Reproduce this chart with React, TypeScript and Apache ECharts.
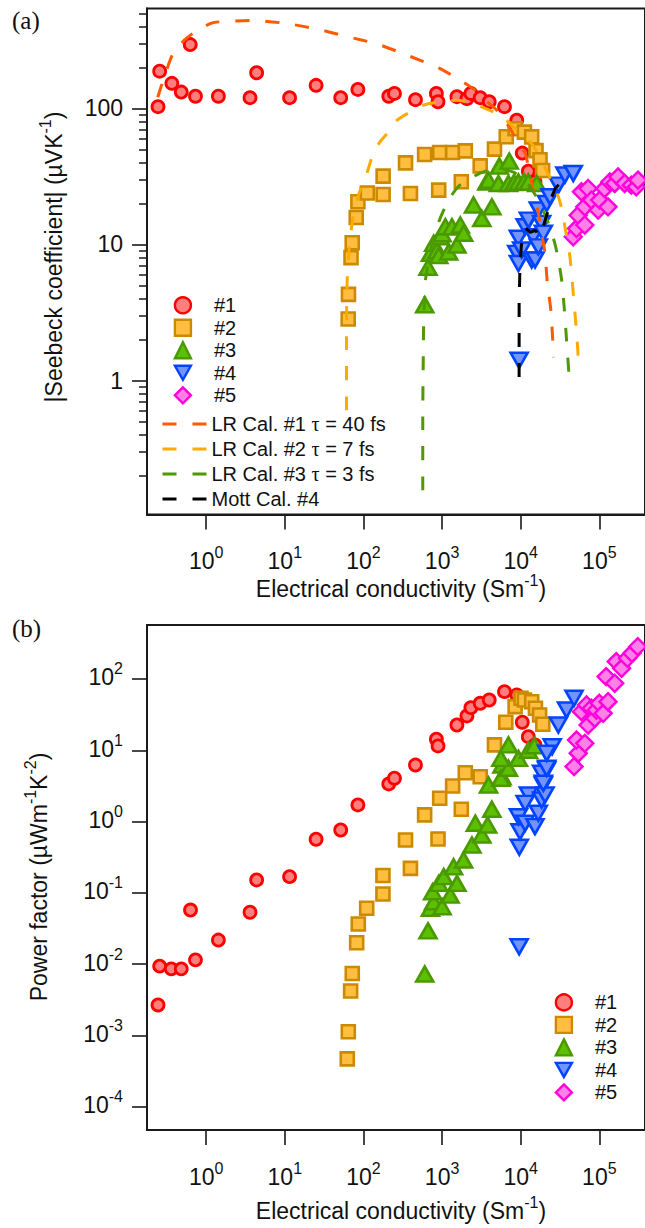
import React, { useEffect, useRef } from "react";
import * as echarts from "echarts";

// ---------- data: panel (a) |Seebeck coefficient| (µV/K) vs conductivity (S/m)
const seebeck1 = [[0.244,103],[0.256,188],[0.366,153],[0.482,132],[0.627,295],[0.731,123],[1.43,123],[3.61,120],[4.38,183],[11.5,120],[25,148],[51.4,120],[85,138],[210,123],[248,129],[459,116],[847,129],[888,112],[1545,122],[2070,118],[2325,129],[3055,120],[3980,112],[6220,103],[8910,82],[10470,47],[12500,34.6],[15200,28.9]];
const seebeck2 = [[64,2.83],[64.5,4.3],[69.5,8.0],[72,10.3],[81,15.8],[85,20.6],[112,23.9],[178,23.3],[178,31.8],[343,39.8],[396,23.7],[600,45.9],[906,25.1],[933,47.4],[1363,47.4],[1757,28.9],[1974,48.8],[3055,37.8],[4640,50.2],[6550,62],[8490,71],[11140,67],[13800,61.8],[15670,49],[17620,42],[19010,35]];
const seebeck3 = [[602,3.6],[663,6.8],[711,8.6],[783,10.2],[860,9.0],[906,8.3],[951,11.4],[1000,12.0],[1101,13.5],[1213,8.8],[1336,13.5],[1545,9.9],[1706,13.9],[1879,12.1],[2512,19.5],[3205,15.5],[3706,28.8],[3900,29.7],[4295,18.9],[5350,37.7],[5215,28.1],[7150,41],[6980,28.1],[8200,28.5],[9350,28.8],[11000,29],[12530,28.8],[15960,28.1]];
const seebeck4 = [[9550,1.41],[8920,8.6],[9350,7.25],[9350,11.1],[10300,9.1],[11380,13.5],[12530,15.1],[13800,7.7],[14490,11.4],[15230,7.7],[16760,9.6],[16760,17.9],[18450,14.3],[19400,12.1],[21380,20],[23600,22.4],[30100,27.3],[36500,32.4],[46600,33.3]];
const seebeck5 = [[46600,11.4],[51300,13.1],[53900,16.4],[59300,24.4],[65400,13.9],[65400,18.9],[72100,25.8],[79400,21.2],[96600,17.9],[101000,21.2],[117000,25.8],[129000,18.9],[136000,28.8],[157000,28.1],[173000,31.4],[210000,28.1],[255000,27.3],[295000,26.5],[310000,29.7]];

// calculated curves, panel (a)
const lrCal1 = [[0.242,121],[0.258,136],[0.314,192],[0.382,255],[0.531,319],[0.753,372],[1.17,424],[1.45,433],[3.75,444],[9.63,424],[24.3,386],[61.2,338],[154,296],[380,243],[914,198],[1706,161],[2642,136],[3540,115],[4970,97],[7340,71.3],[8830,58.5],[11370,46.9],[12530,37],[14500,25],[16760,17],[18460,12.1],[20370,8.6],[21800,5.28],[24300,3.19],[26200,1.48]];
const lrCal2 = [[60.9,0.605],[60.9,1.98],[61.8,5.02],[65.5,9.1],[72.1,14.7],[78,18.4],[87.7,23.7],[107,31.4],[129,44.1],[157,55.3],[200,65.5],[268,82],[396,94.4],[584,106],[951,112],[1545,115],[2393,109],[3540,100],[5480,89.3],[8490,71.3],[12530,58.5],[15230,50.8],[21100,35.2],[23600,30.8],[30100,22.4],[33100,18.4],[36500,13.5],[42300,8.1],[48000,3.58],[51900,2.09],[55000,1.2]];
const lrCal3 = [[568,0.156],[568,0.51],[576,1.41],[584,2.77],[601,4.17],[619,5.65],[716,9.07],[906,14.6],[1213,21.2],[1623,26.8],[2305,30.7],[3365,34.2],[5215,35.8],[8090,34],[11800,28.7],[16760,21.2],[22400,14.4],[27500,9.9],[32800,5.75],[35800,3.4],[38300,1.98],[41000,1.14],[43000,0.9]];
const mottCal4 = [[9550,1.06],[9550,3.89],[9770,6.47],[10200,9.88],[11480,13.2],[13300,12.3],[15400,12.7],[17300,11.5],[19400,13.6],[21800,17],[24500,21.9],[27500,25.9],[32800,28.7],[40200,29.7]];

// ---------- data: panel (b) power factor (µW m^-1 K^-2) vs conductivity (S/m)
const pf1 = [[0.244,0.00268],[0.256,0.0094],[0.36,0.0086],[0.482,0.0086],[0.632,0.0575],[0.731,0.0115],[1.43,0.0218],[3.61,0.0535],[4.38,0.152],[11.5,0.169],[25,0.565],[51.4,0.762],[85,1.71],[210,3.37],[248,4.05],[459,6.22],[847,14.3],[888,11.5],[1545,22.6],[2070,30.3],[2325,39.6],[3055,45.6],[3980,50.7],[6220,66.4],[8910,59.7],[10470,24.7],[12500,15.5],[15200,11.9]];
const pf2 = [[62.3,0.00047],[64.2,0.00113],[68.7,0.0042],[72.1,0.0074],[82,0.02],[86,0.0366],[110,0.061],[177,0.0966],[177,0.175],[396,0.221],[343,0.552],[888,0.57],[600,1.24],[1757,1.49],[933,2.12],[1363,3.16],[1974,4.85],[3055,4.26],[4640,11.9],[6460,24.7],[8490,40.9],[10100,53.6],[11140,50.7],[13800,48],[15400,38.8],[17400,31.3],[19100,23.2]];
const pf3 = [[602,0.0073],[663,0.0293],[711,0.0608],[783,0.0753],[1000,0.064],[760,0.104],[906,0.136],[1265,0.093],[1545,0.136],[1050,0.169],[1400,0.233],[1879,0.289],[2400,0.47],[3205,0.649],[2650,0.946],[3800,0.895],[4295,1.49],[3900,3.26],[5780,4.26],[5780,6.2],[5600,4.05],[6980,5.58],[5600,7.7],[6980,11.9],[9350,7.7],[12530,10],[14900,11.6]];
const pf4 = [[9550,0.0176],[9600,0.436],[9800,0.72],[9350,1.17],[11380,0.946],[15200,0.85],[16760,1.31],[12530,2.36],[11400,1.8],[18450,2.01],[19400,3.26],[21400,5.3],[18450,4.75],[20400,2.36],[19400,3.44],[21400,5.58],[25100,11.2],[21400,9.1],[30100,22.6],[38300,36.7],[47700,53.6]];
const pf5 = [[47700,5.9],[53900,9.1],[51300,13.9],[65400,12.5],[72100,22.6],[59300,34.8],[68600,43.2],[79400,38.8],[87600,28.1],[91800,36.7],[100000,45.6],[112000,33],[129000,48],[122000,108],[157000,87],[164000,175],[192000,141],[228000,195],[260000,229],[308000,284]];

// ---------- labels / ticks
const sampleNames = ["#1", "#2", "#3", "#4", "#5"];
const lineNames = ["LR Cal. #1 τ = 40 fs", "LR Cal. #2 τ = 7 fs", "LR Cal. #3 τ = 3 fs", "Mott Cal. #4"];
const xTickValues = [1, 10, 100, 1000, 10000, 100000];
const yTickValuesA = [1, 10, 100];
const yMinorTicksA = [0.2,0.3,0.4,0.5,0.6,0.7,0.8,0.9,2,3,4,5,6,7,8,9,20,30,40,50,60,70,80,90,200,300,400,500];
const yTickValuesB = [0.0001, 0.001, 0.01, 0.1, 1, 10, 100];

const FONT = '"Liberation Sans", Arial, Helvetica, sans-serif';
const SERIF = '"Liberation Serif", "Times New Roman", serif';
const AX = "#1a1a1a";
const TXT = "#111";

const X_MIN = 0.1767, X_MAX = 3.81e5;
const YA_MIN = 0.1035, YA_MAX = 543;
const YB_MIN = 4.73e-5, YB_MAX = 571;

const markerStyles = [
  { symbol: "circle", size: 12, rotate: 0, fill: "#FF7F7F", stroke: "#FF0000", bw: 2.8 },
  { symbol: "rect", size: 13, rotate: 0, fill: "#FFBE40", stroke: "#CC8A00", bw: 2.6 },
  { symbol: "triangle", size: [17, 15], rotate: 0, fill: "#5CC000", stroke: "#4A9900", bw: 2.6 },
  { symbol: "triangle", size: [17, 15], rotate: 180, fill: "#7393FF", stroke: "#0044FF", bw: 2.6 },
  { symbol: "diamond", size: 17, rotate: 0, fill: "#FF80E6", stroke: "#FF00DD", bw: 2.4 },
];
const lineColors = ["#FF5A00", "#FFAA00", "#4F9A00", "#000000"];
const DOWN_TRIANGLE = "path://M0,0L17,0L8.5,15Z";

const labelRich = {
  b: { fontSize: 23, lineHeight: 20, fontFamily: FONT, color: TXT, verticalAlign: "bottom" },
  s: { fontSize: 16, lineHeight: 14, padding: [0, 0, 12, 0], fontFamily: FONT, color: TXT, verticalAlign: "bottom" },
};
const titleRich = {
  b: { fontSize: 23, lineHeight: 20, fontFamily: FONT, color: TXT, verticalAlign: "bottom" },
  s: { fontSize: 16, lineHeight: 12, padding: [0, 0, 12, 0], fontFamily: FONT, color: TXT, verticalAlign: "bottom" },
};
const expLabel = (v: number) => `{b|10}{s|${Math.round(Math.log10(v))}}`;

function xAxisCfg(gridIndex: number) {
  return {
    gridIndex, type: "log", logBase: 10, min: X_MIN, max: X_MAX,
    axisLine: { show: true, lineStyle: { color: AX, width: 2 } },
    axisTick: { show: true, inside: false, length: 15, customValues: xTickValues, lineStyle: { color: AX, width: 1.6 } },
    axisLabel: { show: true, customValues: xTickValues, formatter: expLabel, margin: 38, rich: labelRich, fontFamily: FONT },
    splitLine: { show: false },
    minorTick: { show: false },
  };
}

export default function App() {
  const ref = useRef<HTMLDivElement>(null);
  useEffect(() => {
    if (!ref.current) return;
    const chart = echarts.init(ref.current, undefined, { renderer: "svg" });

    const seebeckSets = [seebeck1, seebeck2, seebeck3, seebeck4, seebeck5];
    const pfSets = [pf1, pf2, pf3, pf4, pf5];
    const lineSets = [lrCal1, lrCal2, lrCal3, mottCal4];

    const scatter = (name: string, data: number[][], i: number, axis: number) => {
      const m = markerStyles[i];
      return {
        name, type: "scatter", data, xAxisIndex: axis, yAxisIndex: axis,
        symbol: m.symbol, symbolSize: m.size, symbolRotate: m.rotate,
        itemStyle: { color: m.fill, borderColor: m.stroke, borderWidth: m.bw, opacity: 1 },
        z: 2 + i * 0.01, silent: true,
      };
    };

    const series: any[] = [];
    seebeckSets.forEach((d, i) => series.push(scatter(sampleNames[i], d, i, 0)));
    lineSets.forEach((d, i) => series.push({
      name: lineNames[i], type: "line", data: d, xAxisIndex: 0, yAxisIndex: 0,
      symbol: "none", smooth: i === 3 ? false : 0.25, z: 5,
      lineStyle: { color: lineColors[i], width: 3, type: [14, 16], cap: "butt" },
      itemStyle: { color: lineColors[i] }, silent: true,
    }));
    pfSets.forEach((d, i) => series.push(scatter(sampleNames[i], d, i, 1)));

    const markerLegendText = { fontSize: 20, fontFamily: FONT, color: TXT, padding: [0, 0, 0, 18] };
    const markerLegendData = sampleNames.map((n, i) => (i === 3 ? { name: n, icon: DOWN_TRIANGLE } : { name: n }));

    const option: any = {
      animation: false,
      backgroundColor: "#ffffff",
      textStyle: { fontFamily: FONT },
      grid: [
        { left: 147, top: 8.5, width: 500, height: 506, show: true, borderColor: AX, borderWidth: 2 },
        { left: 147, top: 625, width: 500, height: 505, show: true, borderColor: AX, borderWidth: 2 },
        { left: 147, top: 8.5, width: 500, height: 506, show: false },
      ],
      xAxis: [
        xAxisCfg(0),
        xAxisCfg(1),
        { gridIndex: 2, type: "log", min: X_MIN, max: X_MAX, show: false },
      ],
      yAxis: [
        {
          gridIndex: 0, type: "log", logBase: 10, min: YA_MIN, max: YA_MAX,
          axisLine: { show: true, lineStyle: { color: AX, width: 2 } },
          axisTick: { show: true, length: 15, customValues: yTickValuesA, lineStyle: { color: AX, width: 1.6 } },
          axisLabel: { show: true, customValues: yTickValuesA, formatter: (v: number) => String(Math.round(v)), margin: 24, fontSize: 23, color: TXT, fontFamily: FONT },
          splitLine: { show: false },
        },
        {
          gridIndex: 1, type: "log", logBase: 10, min: YB_MIN, max: YB_MAX,
          axisLine: { show: true, lineStyle: { color: AX, width: 2 } },
          axisTick: { show: true, length: 15, customValues: yTickValuesB, lineStyle: { color: AX, width: 1.6 } },
          axisLabel: { show: true, customValues: yTickValuesB, formatter: expLabel, margin: 24, rich: labelRich, fontFamily: FONT },
          splitLine: { show: false },
        },
        {
          gridIndex: 2, type: "log", logBase: 10, min: YA_MIN, max: YA_MAX,
          axisLine: { show: false },
          axisTick: { show: true, length: 8, customValues: yMinorTicksA, lineStyle: { color: AX, width: 1.5 } },
          axisLabel: { show: false },
          splitLine: { show: false },
        },
      ],
      legend: [
        {
          data: markerLegendData, orient: "vertical", left: 173.7, top: 295.3, padding: 0,
          itemWidth: 16, itemHeight: 16, itemGap: 2.5, selectedMode: false,
          itemStyle: { borderWidth: 2.4 }, textStyle: markerLegendText,
        },
        {
          data: lineNames, orient: "vertical", left: 161, top: 414, padding: 0,
          itemWidth: 44, itemHeight: 16, itemGap: 5, selectedMode: false,
          lineStyle: { width: 3 },
          itemStyle: { opacity: 0 },
          formatter: (name: string) => name.replace("τ", "{t|τ}"),
          textStyle: { fontSize: 20, fontFamily: FONT, color: TXT, rich: { t: { fontFamily: SERIF, fontSize: 20, color: TXT } } },
        },
        {
          data: markerLegendData, orient: "vertical", left: 554.7, top: 992.4, padding: 0,
          itemWidth: 16, itemHeight: 16, itemGap: 2.5, selectedMode: false,
          itemStyle: { borderWidth: 2.4 }, textStyle: markerLegendText,
        },
      ],
      graphic: [
        { type: "text", x: 12, y: 20, style: { text: "(a)", fontSize: 25, fontFamily: SERIF, fill: TXT, align: "left", verticalAlign: "middle" } },
        { type: "text", x: 12, y: 628, style: { text: "(b)", fontSize: 25, fontFamily: SERIF, fill: TXT, align: "left", verticalAlign: "middle" } },
        { type: "text", x: 401, y: 590, style: { text: "{b|Electrical conductivity (Sm}{s|-1}{b|)}", rich: titleRich, align: "center", verticalAlign: "middle", fill: TXT } },
        { type: "text", x: 401, y: 1212, style: { text: "{b|Electrical conductivity (Sm}{s|-1}{b|)}", rich: titleRich, align: "center", verticalAlign: "middle", fill: TXT } },
        { type: "text", x: 55, y: 257, rotation: Math.PI / 2, style: { text: "{b||Seebeck coefficient| (µVK}{s|-1}{b|)}", rich: titleRich, align: "center", verticalAlign: "middle", fill: TXT } },
        { type: "text", x: 40, y: 877, rotation: Math.PI / 2, style: { text: "{b|Power factor (µWm}{s|-1}{b|K}{s|-2}{b|)}", rich: titleRich, align: "center", verticalAlign: "middle", fill: TXT } },
      ],
      series,
    };
    chart.setOption(option);
    return () => chart.dispose();
  }, []);
  return <div ref={ref} style={{ position: "fixed", left: 0, top: 0, width: 645, height: 1228, background: "#fff" }} />;
}
